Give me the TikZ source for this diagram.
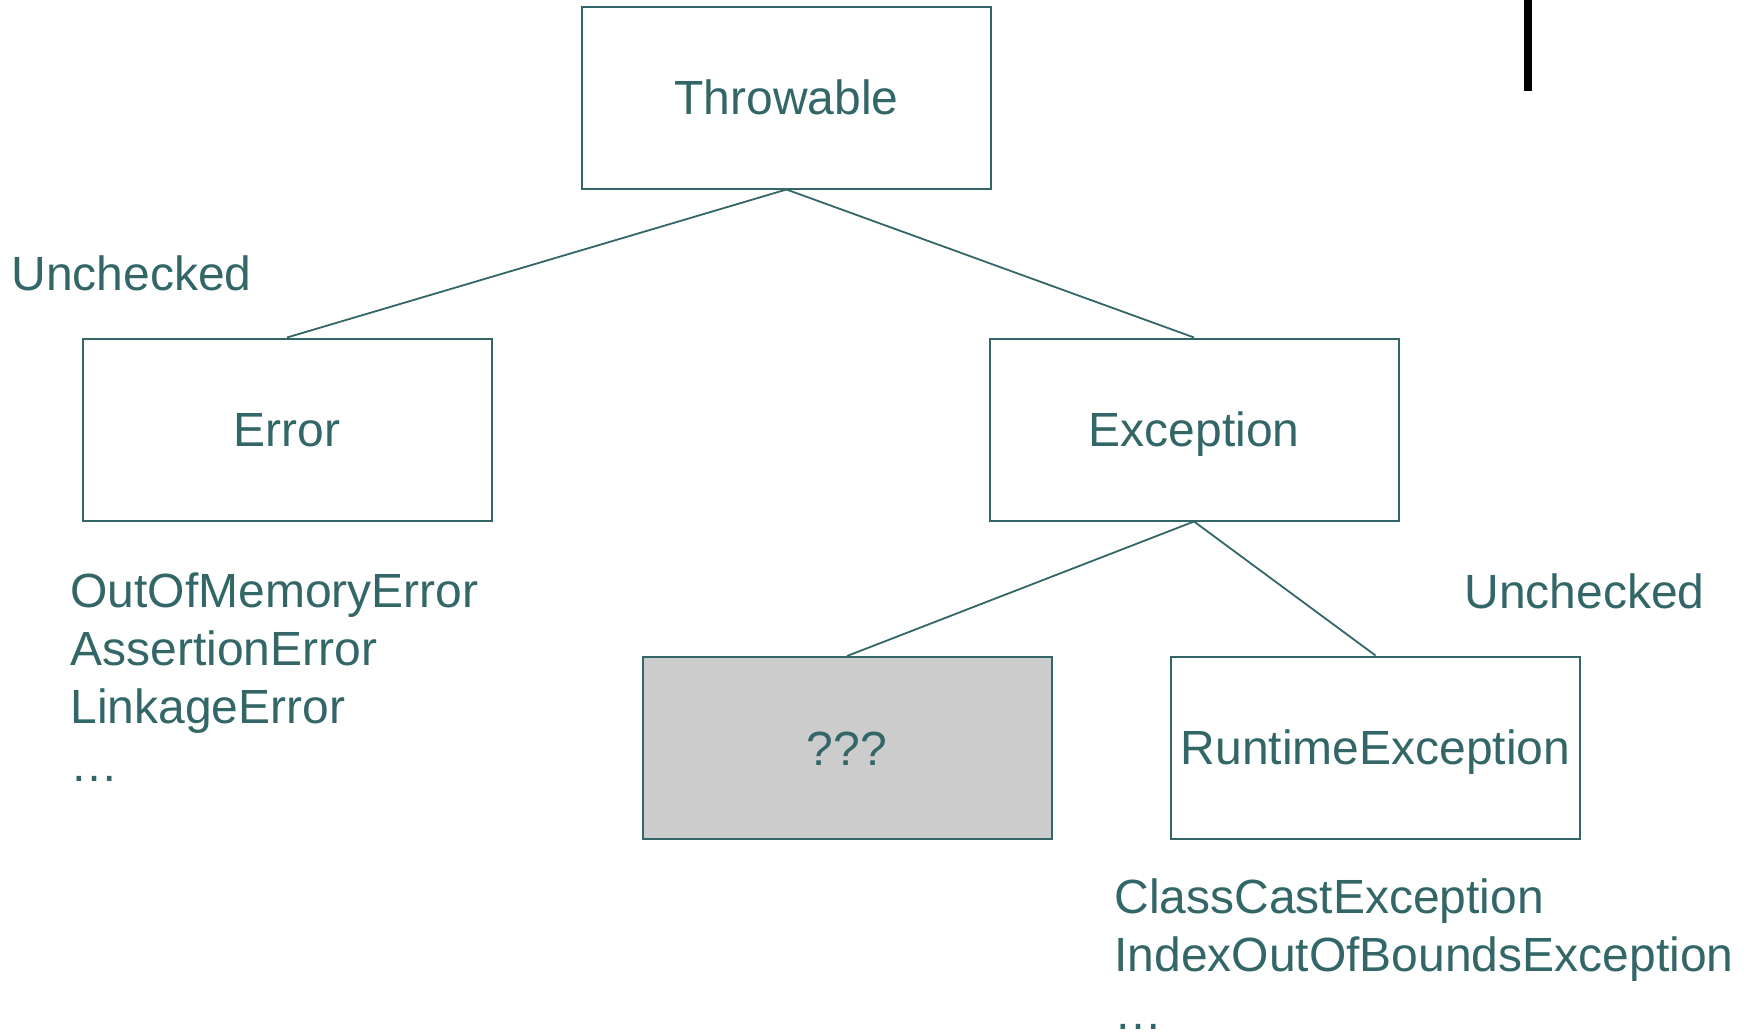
\documentclass[tikz,border=0pt]{standalone}
\usepackage{fontspec}
\setmainfont{Liberation Sans}
\definecolor{teal}{HTML}{336666}
\definecolor{boxgray}{HTML}{CCCCCC}
\begin{document}
\begin{tikzpicture}[x=0.5pt,y=-0.5pt,
  cls/.style={draw=teal,line width=1pt,minimum width=204.5pt,minimum height=91pt,
    inner sep=0pt,text height=17.2pt,text depth=0pt,text=teal,font=\fontsize{24}{28.9}\selectfont},
  lbl/.style={inner sep=0pt,text=teal,font=\fontsize{24}{28.9}\selectfont,anchor=base west,align=left},
  link/.style={draw=teal,line width=0.9pt}]
\useasboundingbox (0,0) rectangle (1751,1034);
\fill[black] (1524,0) rectangle (1532,91);
\node[cls] (thr) at (786.5,97.5) {Throwable};
\node[cls] (err) at (287,429.5) {Error};
\node[cls] (exc) at (1194,429.5) {Exception};
\node[cls,fill=boxgray] (unk) at (847,748) {???};
\node[cls] (rte) at (1375.5,747.5) {RuntimeException};
\draw[link] (thr.south) -- (err.north);
\draw[link] (thr.south) -- (exc.north);
\draw[link] (exc.south) -- (unk.north);
\draw[link] (exc.south) -- (rte.north);
\node[lbl] (u1) at (11,290) {Unchecked};
\node[lbl] (u2) at (1464,608) {Unchecked};
\node[lbl] (el) at (70,781) {OutOfMemoryError\\AssertionError\\LinkageError\\…};
\node[lbl] (rl) at (1114,1029) {ClassCastException\\IndexOutOfBoundsException\\…};
\end{tikzpicture}
\end{document}
